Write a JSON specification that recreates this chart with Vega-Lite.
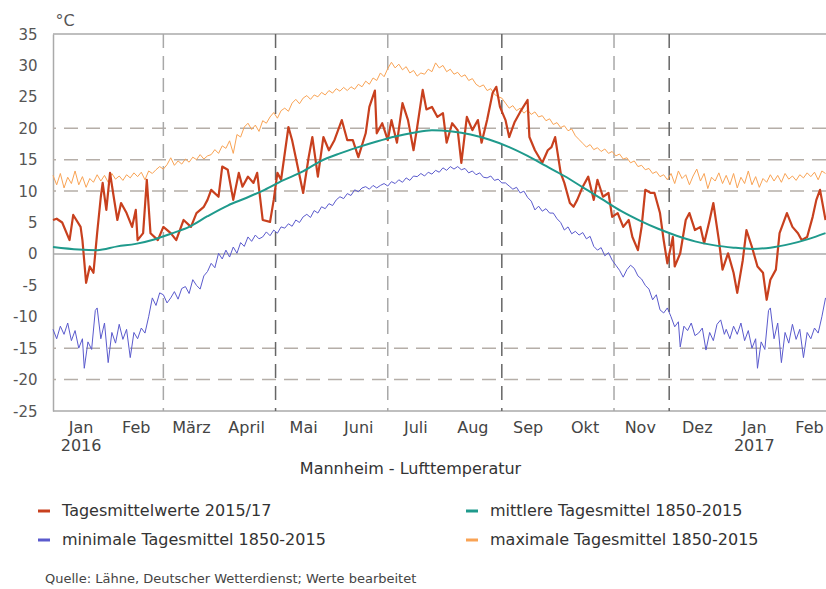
{
"$schema": "https://vega.github.io/schema/vega-lite/v6.json",
"width": 773, "height": 377,
"autosize": {"type": "none"},
"padding": {"left": 53, "top": 34, "right": 0, "bottom": 178},
"background": "white",
"config": {"font": "DejaVu Sans", "view": {"stroke": null}, "axis": {"labelOverlap": false, "labelSeparation": 0}},
"title": {"text": "Quelle: Lähne, Deutscher Wetterdienst; Werte bearbeitet", "orient": "bottom", "anchor": "start", "frame": "group", "offset": 25, "fontSize": 13, "fontWeight": "normal", "color": "#444", "dx": -8},
"layer": [
{"data": {"values": [{"v":20},{"v":15},{"v":10},{"v":-15},{"v":-20}]},
 "mark": {"type":"rule","strokeDash":[14,8],"color":"#b5aea8","strokeWidth":1.5},
 "encoding": {"y": {"field":"v","type":"quantitative","scale":{"domain":[-25,35],"nice":false,"zero":false},
   "axis": {"title":"°C","titleAngle":0,"titleAlign":"left","titleX":2,"titleY":-9,"titleBaseline":"alphabetic","titleFontSize":16,"titleFontWeight":"normal","titleColor":"#555",
    "values":[-25,-20,-15,-10,-5,0,5,10,15,20,25,30,35],"labelExpr":"'' + datum.value","labelOverlap":false,"labelSeparation":0,"labelBound":false,"labelFontSize":15,"labelColor":"#555","labelPadding":16,"ticks":false,"grid":false,"domain":true,"domainColor":"#aaaaaa","domainWidth":1.5}}}},
{"data": {"values": [{"v":35},{"v":0},{"v":-25}]},
 "mark": {"type":"rule","color":"#aaaaaa","strokeWidth":1.5},
 "encoding": {"y": {"field":"v","type":"quantitative","scale":{"domain":[-25,35],"nice":false,"zero":false},
   "axis": {"title":"°C","titleAngle":0,"titleAlign":"left","titleX":2,"titleY":-9,"titleBaseline":"alphabetic","titleFontSize":16,"titleFontWeight":"normal","titleColor":"#555",
    "values":[-25,-20,-15,-10,-5,0,5,10,15,20,25,30,35],"labelExpr":"'' + datum.value","labelOverlap":false,"labelSeparation":0,"labelBound":false,"labelFontSize":15,"labelColor":"#555","labelPadding":16,"ticks":false,"grid":false,"domain":true,"domainColor":"#aaaaaa","domainWidth":1.5}}}},
{"data": {"values": [{"d":"2016-03-01"},{"d":"2016-07-01"},{"d":"2016-11-01"}]},
 "mark": {"type":"rule","strokeDash":[14,8],"color":"#a8a8a8","strokeWidth":1.5},
 "encoding": {"x": {"field":"d","type":"temporal","scale":{"type":"utc","domain":[{"year":2016,"month":1,"date":1,"utc":true},{"year":2017,"month":2,"date":24,"hours":6,"utc":true}]},
   "axis": {"title":"Mannheim - Lufttemperatur","values":[{"year":2016,"month":1,"date":16,"utc":true},{"year":2016,"month":2,"date":15,"utc":true},{"year":2016,"month":3,"date":16,"utc":true},{"year":2016,"month":4,"date":15,"utc":true},{"year":2016,"month":5,"date":16,"utc":true},{"year":2016,"month":6,"date":15,"utc":true},{"year":2016,"month":7,"date":16,"utc":true},{"year":2016,"month":8,"date":16,"utc":true},{"year":2016,"month":9,"date":15,"utc":true},{"year":2016,"month":10,"date":16,"utc":true},{"year":2016,"month":11,"date":15,"utc":true},{"year":2016,"month":12,"date":16,"utc":true},{"year":2017,"month":1,"date":16,"utc":true},{"year":2017,"month":2,"date":15,"utc":true}],
    "labelExpr":"utcmonth(datum.value) == 0 ? ['Jan', '' + utcyear(datum.value)] : ['Jan','Feb','März','April','Mai','Juni','Juli','Aug','Sep','Okt','Nov','Dez'][utcmonth(datum.value)]",
    "ticks":false,"grid":false,"domain":false,"labelPadding":8,"labelFontSize":16,"labelColor":"#444","labelLineHeight":18,"labelFlush":false,"labelOverlap":false,
    "titleX":357,"titleY":57,"titleBaseline":"middle","titleAlign":"center","titleFontWeight":"normal","titleFontSize":16,"titleColor":"#333"}}}},
{"data": {"values": [{"d":"2016-05-01"},{"d":"2016-09-01"},{"d":"2016-12-01"}]},
 "mark": {"type":"rule","strokeDash":[14,8],"color":"#666666","strokeWidth":1.5},
 "encoding": {"x": {"field":"d","type":"temporal","scale":{"type":"utc","domain":[{"year":2016,"month":1,"date":1,"utc":true},{"year":2017,"month":2,"date":24,"hours":6,"utc":true}]}}}},
{"data": {"values": [
{"d":"2016-01-01","v":-12.0},{"d":"2016-01-03","v":-13.5},{"d":"2016-01-05","v":-11.5},{"d":"2016-01-07","v":-12.8},{"d":"2016-01-09","v":-11.0},{"d":"2016-01-11","v":-13.8},{"d":"2016-01-13","v":-12.2},{"d":"2016-01-15","v":-15.0},{"d":"2016-01-17","v":-13.5},{"d":"2016-01-18","v":-18.2},{"d":"2016-01-20","v":-14.0},{"d":"2016-01-22","v":-15.2},{"d":"2016-01-24","v":-9.0},{"d":"2016-01-25","v":-8.6},{"d":"2016-01-27","v":-13.5},{"d":"2016-01-29","v":-11.0},{"d":"2016-01-31","v":-17.3},{"d":"2016-02-02","v":-12.5},{"d":"2016-02-04","v":-14.2},{"d":"2016-02-06","v":-11.2},{"d":"2016-02-08","v":-13.6},{"d":"2016-02-10","v":-12.0},{"d":"2016-02-12","v":-16.5},{"d":"2016-02-14","v":-12.5},{"d":"2016-02-16","v":-13.5},{"d":"2016-02-18","v":-11.8},{"d":"2016-02-20","v":-12.6},{"d":"2016-02-22","v":-10.0},{"d":"2016-02-24","v":-7.0},
{"d":"2016-02-26","v":-8.2},{"d":"2016-02-28","v":-6.2},{"d":"2016-03-01","v":-6.5},{"d":"2016-03-03","v":-7.8},{"d":"2016-03-05","v":-7.0},{"d":"2016-03-07","v":-6.0},{"d":"2016-03-09","v":-7.2},{"d":"2016-03-11","v":-5.5},{"d":"2016-03-13","v":-5.2},{"d":"2016-03-15","v":-6.3},{"d":"2016-03-17","v":-4.1},{"d":"2016-03-19","v":-5.0},{"d":"2016-03-21","v":-5.6},{"d":"2016-03-23","v":-3.5},{"d":"2016-03-25","v":-2.8},{"d":"2016-03-27","v":-1.5},{"d":"2016-03-29","v":-2.2},{"d":"2016-03-31","v":0.1},
{"d":"2016-04-02","v":-0.8},{"d":"2016-04-04","v":0.6},{"d":"2016-04-06","v":-0.5},{"d":"2016-04-08","v":1.1},{"d":"2016-04-10","v":0.1},{"d":"2016-04-12","v":1.8},{"d":"2016-04-14","v":1.2},{"d":"2016-04-16","v":2.7},{"d":"2016-04-18","v":2.0},{"d":"2016-04-20","v":3.0},{"d":"2016-04-22","v":2.4},{"d":"2016-04-24","v":2.7},{"d":"2016-04-26","v":3.5},{"d":"2016-04-28","v":2.9},{"d":"2016-04-30","v":3.8},
{"d":"2016-05-02","v":3.3},{"d":"2016-05-04","v":4.3},{"d":"2016-05-06","v":4.1},{"d":"2016-05-08","v":4.8},{"d":"2016-05-10","v":4.4},{"d":"2016-05-12","v":5.4},{"d":"2016-05-14","v":5.0},{"d":"2016-05-16","v":5.9},{"d":"2016-05-18","v":6.3},{"d":"2016-05-20","v":5.8},{"d":"2016-05-22","v":6.9},{"d":"2016-05-24","v":6.5},{"d":"2016-05-26","v":7.5},{"d":"2016-05-28","v":7.2},{"d":"2016-05-30","v":8.0},
{"d":"2016-06-01","v":7.7},{"d":"2016-06-03","v":8.6},{"d":"2016-06-05","v":9.1},{"d":"2016-06-07","v":8.8},{"d":"2016-06-09","v":9.6},{"d":"2016-06-11","v":9.3},{"d":"2016-06-13","v":10.2},{"d":"2016-06-15","v":9.9},{"d":"2016-06-17","v":10.5},{"d":"2016-06-19","v":10.7},{"d":"2016-06-21","v":10.3},{"d":"2016-06-23","v":10.9},{"d":"2016-06-25","v":10.5},{"d":"2016-06-27","v":10.9},{"d":"2016-06-29","v":11.2},
{"d":"2016-07-01","v":10.8},{"d":"2016-07-03","v":11.5},{"d":"2016-07-05","v":11.2},{"d":"2016-07-07","v":11.8},{"d":"2016-07-09","v":11.4},{"d":"2016-07-11","v":12.1},{"d":"2016-07-13","v":11.7},{"d":"2016-07-15","v":12.4},{"d":"2016-07-17","v":12.3},{"d":"2016-07-19","v":12.8},{"d":"2016-07-21","v":12.4},{"d":"2016-07-23","v":13.0},{"d":"2016-07-25","v":12.7},{"d":"2016-07-27","v":13.3},{"d":"2016-07-29","v":13.0},{"d":"2016-07-31","v":13.7},
{"d":"2016-08-02","v":13.3},{"d":"2016-08-04","v":13.9},{"d":"2016-08-06","v":13.5},{"d":"2016-08-08","v":13.9},{"d":"2016-08-10","v":13.4},{"d":"2016-08-12","v":13.6},{"d":"2016-08-14","v":12.9},{"d":"2016-08-16","v":13.2},{"d":"2016-08-18","v":12.6},{"d":"2016-08-20","v":12.9},{"d":"2016-08-22","v":12.2},{"d":"2016-08-24","v":12.1},{"d":"2016-08-26","v":12.4},{"d":"2016-08-28","v":11.7},{"d":"2016-08-30","v":11.9},
{"d":"2016-09-01","v":11.3},{"d":"2016-09-03","v":11.3},{"d":"2016-09-05","v":10.8},{"d":"2016-09-07","v":10.3},{"d":"2016-09-09","v":10.6},{"d":"2016-09-11","v":9.7},{"d":"2016-09-13","v":10.0},{"d":"2016-09-15","v":9.0},{"d":"2016-09-17","v":8.4},{"d":"2016-09-19","v":7.0},{"d":"2016-09-21","v":7.6},{"d":"2016-09-23","v":6.8},{"d":"2016-09-25","v":7.2},{"d":"2016-09-27","v":6.5},{"d":"2016-09-29","v":6.5},
{"d":"2016-10-01","v":5.6},{"d":"2016-10-03","v":5.0},{"d":"2016-10-05","v":3.8},{"d":"2016-10-07","v":4.3},{"d":"2016-10-09","v":3.2},{"d":"2016-10-11","v":3.6},{"d":"2016-10-13","v":3.0},{"d":"2016-10-15","v":3.4},{"d":"2016-10-17","v":2.4},{"d":"2016-10-19","v":2.8},{"d":"2016-10-21","v":1.2},{"d":"2016-10-23","v":0.6},{"d":"2016-10-25","v":1.0},{"d":"2016-10-27","v":-0.3},{"d":"2016-10-29","v":0.2},{"d":"2016-10-31","v":-1.0},
{"d":"2016-11-02","v":-1.8},{"d":"2016-11-04","v":-2.6},{"d":"2016-11-06","v":-3.7},{"d":"2016-11-08","v":-2.5},{"d":"2016-11-10","v":-1.8},{"d":"2016-11-12","v":-2.3},{"d":"2016-11-14","v":-3.5},{"d":"2016-11-16","v":-4.0},{"d":"2016-11-18","v":-5.0},{"d":"2016-11-20","v":-5.6},{"d":"2016-11-22","v":-7.3},{"d":"2016-11-24","v":-6.5},{"d":"2016-11-26","v":-8.9},{"d":"2016-11-28","v":-9.4},{"d":"2016-11-30","v":-8.6},
{"d":"2016-12-02","v":-10.0},{"d":"2016-12-04","v":-11.6},{"d":"2016-12-06","v":-10.8},{"d":"2016-12-07","v":-14.8},{"d":"2016-12-09","v":-11.5},{"d":"2016-12-11","v":-12.2},{"d":"2016-12-13","v":-11.0},{"d":"2016-12-15","v":-13.0},{"d":"2016-12-17","v":-12.6},{"d":"2016-12-19","v":-11.8},{"d":"2016-12-21","v":-15.3},{"d":"2016-12-23","v":-12.5},{"d":"2016-12-25","v":-13.8},{"d":"2016-12-27","v":-11.2},{"d":"2016-12-29","v":-10.5},{"d":"2016-12-31","v":-12.8},
{"d":"2017-01-01","v":-12.0},{"d":"2017-01-03","v":-13.5},{"d":"2017-01-05","v":-11.5},{"d":"2017-01-07","v":-12.8},{"d":"2017-01-09","v":-11.0},{"d":"2017-01-11","v":-13.8},{"d":"2017-01-13","v":-12.2},{"d":"2017-01-15","v":-15.0},{"d":"2017-01-17","v":-13.5},{"d":"2017-01-18","v":-18.2},{"d":"2017-01-20","v":-14.0},{"d":"2017-01-22","v":-15.2},{"d":"2017-01-24","v":-9.0},{"d":"2017-01-25","v":-8.6},{"d":"2017-01-27","v":-13.5},{"d":"2017-01-29","v":-11.0},{"d":"2017-01-31","v":-17.3},{"d":"2017-02-02","v":-12.5},{"d":"2017-02-04","v":-14.2},{"d":"2017-02-06","v":-11.2},{"d":"2017-02-08","v":-13.6},{"d":"2017-02-10","v":-12.0},{"d":"2017-02-12","v":-16.5},{"d":"2017-02-14","v":-12.5},{"d":"2017-02-16","v":-13.5},{"d":"2017-02-18","v":-11.8},{"d":"2017-02-20","v":-12.6},{"d":"2017-02-22","v":-10.0},{"d":"2017-02-24","v":-7.0}
]},
 "mark": {"type":"line","strokeWidth":1,"color":"#5a5acd"},
 "encoding": {
  "x": {"field":"d","type":"temporal","scale":{"type":"utc","domain":[{"year":2016,"month":1,"date":1,"utc":true},{"year":2017,"month":2,"date":24,"hours":6,"utc":true}]}},
  "y": {"field":"v","type":"quantitative","scale":{"domain":[-25,35],"nice":false,"zero":false},
   "axis": {"title":"°C","titleAngle":0,"titleAlign":"left","titleX":2,"titleY":-9,"titleBaseline":"alphabetic","titleFontSize":16,"titleFontWeight":"normal","titleColor":"#555",
    "values":[-25,-20,-15,-10,-5,0,5,10,15,20,25,30,35],"labelExpr":"'' + datum.value","labelOverlap":false,"labelSeparation":0,"labelBound":false,"labelFontSize":15,"labelColor":"#555","labelPadding":16,"ticks":false,"grid":false,"domain":true,"domainColor":"#aaaaaa","domainWidth":1.5}},
  "color": {"datum":"minimale Tagesmittel 1850-2015"}}},
{"data": {"values": [
{"d":"2016-01-01","v":12.5},{"d":"2016-01-03","v":11.0},{"d":"2016-01-05","v":12.8},{"d":"2016-01-07","v":10.5},{"d":"2016-01-09","v":12.2},{"d":"2016-01-11","v":11.2},{"d":"2016-01-13","v":13.2},{"d":"2016-01-15","v":11.0},{"d":"2016-01-17","v":12.3},{"d":"2016-01-19","v":10.6},{"d":"2016-01-21","v":12.0},{"d":"2016-01-23","v":11.4},{"d":"2016-01-25","v":12.6},{"d":"2016-01-27","v":11.6},{"d":"2016-01-29","v":12.5},{"d":"2016-01-31","v":11.4},{"d":"2016-02-02","v":12.8},{"d":"2016-02-04","v":11.9},{"d":"2016-02-06","v":12.4},{"d":"2016-02-08","v":11.7},{"d":"2016-02-10","v":12.6},{"d":"2016-02-12","v":12.1},{"d":"2016-02-14","v":12.9},{"d":"2016-02-16","v":12.3},{"d":"2016-02-18","v":13.0},{"d":"2016-02-20","v":11.8},{"d":"2016-02-22","v":13.2},{"d":"2016-02-24","v":12.8},
{"d":"2016-02-26","v":13.4},{"d":"2016-02-28","v":13.9},{"d":"2016-03-01","v":13.5},{"d":"2016-03-03","v":14.2},{"d":"2016-03-05","v":15.3},{"d":"2016-03-07","v":14.1},{"d":"2016-03-09","v":14.8},{"d":"2016-03-11","v":14.3},{"d":"2016-03-13","v":15.1},{"d":"2016-03-15","v":14.6},{"d":"2016-03-17","v":15.4},{"d":"2016-03-19","v":15.0},{"d":"2016-03-21","v":15.8},{"d":"2016-03-23","v":15.1},{"d":"2016-03-25","v":15.6},{"d":"2016-03-27","v":15.8},{"d":"2016-03-29","v":16.6},{"d":"2016-03-31","v":16.0},
{"d":"2016-04-02","v":17.2},{"d":"2016-04-04","v":16.8},{"d":"2016-04-06","v":18.0},{"d":"2016-04-08","v":16.0},{"d":"2016-04-10","v":19.0},{"d":"2016-04-12","v":18.6},{"d":"2016-04-14","v":20.2},{"d":"2016-04-16","v":20.8},{"d":"2016-04-18","v":19.8},{"d":"2016-04-20","v":20.5},{"d":"2016-04-22","v":19.5},{"d":"2016-04-24","v":21.2},{"d":"2016-04-26","v":20.8},{"d":"2016-04-28","v":21.8},{"d":"2016-04-30","v":22.5},
{"d":"2016-05-02","v":21.6},{"d":"2016-05-04","v":22.8},{"d":"2016-05-06","v":23.2},{"d":"2016-05-08","v":22.7},{"d":"2016-05-10","v":24.0},{"d":"2016-05-12","v":24.6},{"d":"2016-05-14","v":23.9},{"d":"2016-05-16","v":24.8},{"d":"2016-05-18","v":25.2},{"d":"2016-05-20","v":24.6},{"d":"2016-05-22","v":25.3},{"d":"2016-05-24","v":25.0},{"d":"2016-05-26","v":25.7},{"d":"2016-05-28","v":25.3},{"d":"2016-05-30","v":26.0},
{"d":"2016-06-01","v":25.6},{"d":"2016-06-03","v":26.3},{"d":"2016-06-05","v":25.9},{"d":"2016-06-07","v":26.5},{"d":"2016-06-09","v":26.0},{"d":"2016-06-11","v":26.6},{"d":"2016-06-13","v":26.2},{"d":"2016-06-15","v":27.0},{"d":"2016-06-17","v":26.6},{"d":"2016-06-19","v":27.5},{"d":"2016-06-21","v":27.0},{"d":"2016-06-23","v":28.0},{"d":"2016-06-25","v":27.6},{"d":"2016-06-27","v":28.8},{"d":"2016-06-29","v":28.2},
{"d":"2016-07-01","v":29.5},{"d":"2016-07-03","v":30.5},{"d":"2016-07-05","v":29.6},{"d":"2016-07-07","v":30.2},{"d":"2016-07-09","v":29.3},{"d":"2016-07-11","v":29.8},{"d":"2016-07-13","v":28.8},{"d":"2016-07-15","v":29.2},{"d":"2016-07-17","v":28.3},{"d":"2016-07-19","v":28.8},{"d":"2016-07-21","v":28.6},{"d":"2016-07-23","v":29.4},{"d":"2016-07-25","v":29.0},{"d":"2016-07-27","v":30.4},{"d":"2016-07-29","v":29.6},{"d":"2016-07-31","v":30.0},
{"d":"2016-08-02","v":29.0},{"d":"2016-08-04","v":29.4},{"d":"2016-08-06","v":28.6},{"d":"2016-08-08","v":28.9},{"d":"2016-08-10","v":28.2},{"d":"2016-08-12","v":28.5},{"d":"2016-08-14","v":27.6},{"d":"2016-08-16","v":27.9},{"d":"2016-08-18","v":27.0},{"d":"2016-08-20","v":26.6},{"d":"2016-08-22","v":26.9},{"d":"2016-08-24","v":26.0},{"d":"2016-08-26","v":26.3},{"d":"2016-08-28","v":25.4},{"d":"2016-08-30","v":25.0},
{"d":"2016-09-01","v":24.8},{"d":"2016-09-03","v":24.0},{"d":"2016-09-05","v":23.2},{"d":"2016-09-07","v":23.6},{"d":"2016-09-09","v":22.8},{"d":"2016-09-11","v":23.2},{"d":"2016-09-13","v":22.4},{"d":"2016-09-15","v":22.9},{"d":"2016-09-17","v":22.2},{"d":"2016-09-19","v":22.6},{"d":"2016-09-21","v":21.8},{"d":"2016-09-23","v":22.0},{"d":"2016-09-25","v":21.2},{"d":"2016-09-27","v":21.5},{"d":"2016-09-29","v":20.6},
{"d":"2016-10-01","v":20.9},{"d":"2016-10-03","v":20.1},{"d":"2016-10-05","v":20.4},{"d":"2016-10-07","v":19.6},{"d":"2016-10-09","v":19.9},{"d":"2016-10-11","v":18.8},{"d":"2016-10-13","v":18.2},{"d":"2016-10-15","v":17.6},{"d":"2016-10-17","v":17.0},{"d":"2016-10-19","v":17.4},{"d":"2016-10-21","v":16.6},{"d":"2016-10-23","v":16.9},{"d":"2016-10-25","v":16.3},{"d":"2016-10-27","v":16.7},{"d":"2016-10-29","v":16.0},{"d":"2016-10-31","v":16.3},
{"d":"2016-11-02","v":15.6},{"d":"2016-11-04","v":15.9},{"d":"2016-11-06","v":15.1},{"d":"2016-11-08","v":15.3},{"d":"2016-11-10","v":14.5},{"d":"2016-11-12","v":14.8},{"d":"2016-11-14","v":13.9},{"d":"2016-11-16","v":14.1},{"d":"2016-11-18","v":13.4},{"d":"2016-11-20","v":13.6},{"d":"2016-11-22","v":12.8},{"d":"2016-11-24","v":13.1},{"d":"2016-11-26","v":12.3},{"d":"2016-11-28","v":12.6},{"d":"2016-11-30","v":11.8},
{"d":"2016-12-02","v":12.8},{"d":"2016-12-04","v":11.2},{"d":"2016-12-06","v":13.2},{"d":"2016-12-08","v":12.0},{"d":"2016-12-10","v":12.6},{"d":"2016-12-12","v":11.0},{"d":"2016-12-14","v":12.4},{"d":"2016-12-16","v":13.5},{"d":"2016-12-18","v":11.6},{"d":"2016-12-20","v":12.8},{"d":"2016-12-22","v":10.4},{"d":"2016-12-24","v":12.2},{"d":"2016-12-26","v":11.6},{"d":"2016-12-28","v":12.9},{"d":"2016-12-30","v":11.2},
{"d":"2017-01-01","v":12.5},{"d":"2017-01-03","v":11.0},{"d":"2017-01-05","v":12.8},{"d":"2017-01-07","v":10.5},{"d":"2017-01-09","v":12.2},{"d":"2017-01-11","v":11.2},{"d":"2017-01-13","v":13.2},{"d":"2017-01-15","v":11.0},{"d":"2017-01-17","v":12.3},{"d":"2017-01-19","v":10.6},{"d":"2017-01-21","v":12.0},{"d":"2017-01-23","v":11.4},{"d":"2017-01-25","v":12.6},{"d":"2017-01-27","v":11.6},{"d":"2017-01-29","v":12.5},{"d":"2017-01-31","v":11.4},{"d":"2017-02-02","v":12.8},{"d":"2017-02-04","v":11.9},{"d":"2017-02-06","v":12.4},{"d":"2017-02-08","v":11.7},{"d":"2017-02-10","v":12.6},{"d":"2017-02-12","v":12.1},{"d":"2017-02-14","v":12.9},{"d":"2017-02-16","v":12.3},{"d":"2017-02-18","v":13.0},{"d":"2017-02-20","v":11.8},{"d":"2017-02-22","v":13.2},{"d":"2017-02-24","v":12.8}
]},
 "mark": {"type":"line","strokeWidth":1,"color":"#f9a354"},
 "encoding": {
  "x": {"field":"d","type":"temporal","scale":{"type":"utc","domain":[{"year":2016,"month":1,"date":1,"utc":true},{"year":2017,"month":2,"date":24,"hours":6,"utc":true}]}},
  "y": {"field":"v","type":"quantitative","scale":{"domain":[-25,35],"nice":false,"zero":false},
   "axis": {"title":"°C","titleAngle":0,"titleAlign":"left","titleX":2,"titleY":-9,"titleBaseline":"alphabetic","titleFontSize":16,"titleFontWeight":"normal","titleColor":"#555",
    "values":[-25,-20,-15,-10,-5,0,5,10,15,20,25,30,35],"labelExpr":"'' + datum.value","labelOverlap":false,"labelSeparation":0,"labelBound":false,"labelFontSize":15,"labelColor":"#555","labelPadding":16,"ticks":false,"grid":false,"domain":true,"domainColor":"#aaaaaa","domainWidth":1.5}},
  "color": {"datum":"maximale Tagesmittel 1850-2015"}}},
{"data": {"values": [
{"d":"2016-01-01","v":5.4},{"d":"2016-01-03","v":5.6},{"d":"2016-01-06","v":5.0},{"d":"2016-01-10","v":2.2},{"d":"2016-01-12","v":6.2},{"d":"2016-01-16","v":4.3},{"d":"2016-01-17","v":2.2},{"d":"2016-01-19","v":-4.6},{"d":"2016-01-21","v":-2.0},{"d":"2016-01-23","v":-3.0},{"d":"2016-01-25","v":3.3},{"d":"2016-01-27","v":9.1},{"d":"2016-01-28","v":11.3},{"d":"2016-01-30","v":7.0},
{"d":"2016-02-01","v":12.9},{"d":"2016-02-03","v":9.1},{"d":"2016-02-05","v":5.4},{"d":"2016-02-07","v":8.1},{"d":"2016-02-10","v":6.5},{"d":"2016-02-13","v":4.3},{"d":"2016-02-15","v":7.0},{"d":"2016-02-16","v":2.2},{"d":"2016-02-19","v":3.3},{"d":"2016-02-21","v":11.8},{"d":"2016-02-23","v":3.3},{"d":"2016-02-27","v":2.2},
{"d":"2016-03-01","v":4.3},{"d":"2016-03-05","v":3.3},{"d":"2016-03-08","v":2.2},{"d":"2016-03-12","v":5.4},{"d":"2016-03-16","v":4.3},{"d":"2016-03-19","v":6.5},{"d":"2016-03-23","v":7.5},{"d":"2016-03-25","v":8.6},{"d":"2016-03-27","v":10.2},{"d":"2016-03-31","v":9.1},
{"d":"2016-04-02","v":13.9},{"d":"2016-04-05","v":13.4},{"d":"2016-04-08","v":8.6},{"d":"2016-04-11","v":12.9},{"d":"2016-04-13","v":10.7},{"d":"2016-04-16","v":12.3},{"d":"2016-04-19","v":11.3},{"d":"2016-04-21","v":12.9},{"d":"2016-04-24","v":5.4},{"d":"2016-04-28","v":5.1},{"d":"2016-04-30","v":8.6},
{"d":"2016-05-02","v":12.9},{"d":"2016-05-04","v":11.8},{"d":"2016-05-08","v":20.2},{"d":"2016-05-10","v":18.1},{"d":"2016-05-13","v":13.9},{"d":"2016-05-16","v":9.7},{"d":"2016-05-19","v":15.4},{"d":"2016-05-21","v":18.6},{"d":"2016-05-24","v":12.3},{"d":"2016-05-27","v":18.6},{"d":"2016-05-30","v":16.5},
{"d":"2016-06-02","v":18.1},{"d":"2016-06-06","v":21.3},{"d":"2016-06-09","v":18.1},{"d":"2016-06-12","v":18.1},{"d":"2016-06-15","v":15.4},{"d":"2016-06-19","v":19.2},{"d":"2016-06-21","v":23.4},{"d":"2016-06-24","v":26.0},{"d":"2016-06-25","v":19.2},{"d":"2016-06-28","v":20.8},
{"d":"2016-07-01","v":18.1},{"d":"2016-07-03","v":21.3},{"d":"2016-07-06","v":17.7},{"d":"2016-07-09","v":24.0},{"d":"2016-07-12","v":21.3},{"d":"2016-07-15","v":16.5},{"d":"2016-07-17","v":20.2},{"d":"2016-07-20","v":26.1},{"d":"2016-07-22","v":23.0},{"d":"2016-07-25","v":23.4},{"d":"2016-07-28","v":21.8},{"d":"2016-07-31","v":22.4},
{"d":"2016-08-02","v":17.7},{"d":"2016-08-05","v":20.8},{"d":"2016-08-08","v":19.7},{"d":"2016-08-10","v":14.5},{"d":"2016-08-13","v":21.8},{"d":"2016-08-16","v":19.7},{"d":"2016-08-19","v":21.3},{"d":"2016-08-21","v":17.7},{"d":"2016-08-24","v":21.3},{"d":"2016-08-27","v":25.6},{"d":"2016-08-29","v":26.6},{"d":"2016-08-31","v":23.4},
{"d":"2016-09-03","v":21.3},{"d":"2016-09-05","v":18.6},{"d":"2016-09-08","v":21.0},{"d":"2016-09-11","v":22.6},{"d":"2016-09-15","v":24.5},{"d":"2016-09-16","v":18.6},{"d":"2016-09-19","v":16.5},{"d":"2016-09-23","v":14.5},{"d":"2016-09-26","v":16.5},{"d":"2016-09-28","v":17.0},{"d":"2016-09-30","v":18.6},
{"d":"2016-10-03","v":12.9},{"d":"2016-10-05","v":11.3},{"d":"2016-10-08","v":8.1},{"d":"2016-10-10","v":7.5},{"d":"2016-10-12","v":8.6},{"d":"2016-10-15","v":10.7},{"d":"2016-10-18","v":12.3},{"d":"2016-10-21","v":8.6},{"d":"2016-10-23","v":11.8},{"d":"2016-10-26","v":9.1},{"d":"2016-10-29","v":9.7},{"d":"2016-10-31","v":5.9},
{"d":"2016-11-03","v":6.5},{"d":"2016-11-06","v":4.3},{"d":"2016-11-09","v":5.4},{"d":"2016-11-11","v":2.7},{"d":"2016-11-14","v":0.6},{"d":"2016-11-16","v":4.3},{"d":"2016-11-18","v":10.2},{"d":"2016-11-21","v":9.7},{"d":"2016-11-23","v":9.7},{"d":"2016-11-26","v":6.5},{"d":"2016-11-28","v":2.2},{"d":"2016-11-30","v":-1.5},
{"d":"2016-12-03","v":2.7},{"d":"2016-12-04","v":-2.0},{"d":"2016-12-07","v":0.1},{"d":"2016-12-10","v":5.4},{"d":"2016-12-12","v":6.5},{"d":"2016-12-15","v":3.8},{"d":"2016-12-18","v":4.3},{"d":"2016-12-20","v":1.7},{"d":"2016-12-23","v":5.4},{"d":"2016-12-25","v":8.1},{"d":"2016-12-28","v":2.2},{"d":"2016-12-30","v":-2.5},
{"d":"2017-01-02","v":0.1},{"d":"2017-01-05","v":-3.0},{"d":"2017-01-07","v":-6.2},{"d":"2017-01-10","v":-1.0},{"d":"2017-01-12","v":3.8},{"d":"2017-01-15","v":1.1},{"d":"2017-01-18","v":-2.0},{"d":"2017-01-21","v":-3.0},{"d":"2017-01-23","v":-7.3},{"d":"2017-01-25","v":-4.1},{"d":"2017-01-28","v":-2.5},{"d":"2017-01-30","v":3.3},
{"d":"2017-02-03","v":6.5},{"d":"2017-02-06","v":4.3},{"d":"2017-02-09","v":3.3},{"d":"2017-02-11","v":2.2},{"d":"2017-02-14","v":2.7},{"d":"2017-02-17","v":5.9},{"d":"2017-02-19","v":8.6},{"d":"2017-02-21","v":10.2},{"d":"2017-02-23","v":7.0},{"d":"2017-02-24","v":5.4}
]},
 "mark": {"type":"line","strokeWidth":2.2,"color":"#c8401e","strokeJoin":"round"},
 "encoding": {
  "x": {"field":"d","type":"temporal","scale":{"type":"utc","domain":[{"year":2016,"month":1,"date":1,"utc":true},{"year":2017,"month":2,"date":24,"hours":6,"utc":true}]}},
  "y": {"field":"v","type":"quantitative","scale":{"domain":[-25,35],"nice":false,"zero":false},
   "axis": {"title":"°C","titleAngle":0,"titleAlign":"left","titleX":2,"titleY":-9,"titleBaseline":"alphabetic","titleFontSize":16,"titleFontWeight":"normal","titleColor":"#555",
    "values":[-25,-20,-15,-10,-5,0,5,10,15,20,25,30,35],"labelExpr":"'' + datum.value","labelOverlap":false,"labelSeparation":0,"labelBound":false,"labelFontSize":15,"labelColor":"#555","labelPadding":16,"ticks":false,"grid":false,"domain":true,"domainColor":"#aaaaaa","domainWidth":1.5}},
  "color": {"datum":"Tagesmittelwerte 2015/17",
   "scale":{"domain":["Tagesmittelwerte 2015/17","minimale Tagesmittel 1850-2015","mittlere Tagesmittel 1850-2015","maximale Tagesmittel 1850-2015"],"range":["#c8401e","#5a5acd","#1f9a8c","#f9a354"]},
   "legend":{"title":null,"orient":"none","legendX":-17,"legendY":469,"columns":2,"symbolType":"stroke","symbolStrokeWidth":3,"symbolSize":144,"labelFontSize":16,"labelColor":"#333","labelOffset":10,"columnPadding":134,"rowPadding":13,"padding":0,"labelLimit":400}}}},
{"data": {"values": [
{"d":"2016-01-01","v":1.1},{"d":"2016-01-15","v":0.7},{"d":"2016-01-25","v":0.6},{"d":"2016-02-05","v":1.2},{"d":"2016-02-15","v":1.6},{"d":"2016-02-25","v":2.3},{"d":"2016-03-05","v":3.2},{"d":"2016-03-15","v":4.3},{"d":"2016-03-25","v":6.0},{"d":"2016-04-05","v":7.7},{"d":"2016-04-15","v":8.9},{"d":"2016-04-25","v":10.2},{"d":"2016-05-05","v":11.7},{"d":"2016-05-15","v":13.0},{"d":"2016-05-25","v":14.7},{"d":"2016-06-05","v":16.0},{"d":"2016-06-15","v":17.0},{"d":"2016-06-25","v":17.9},{"d":"2016-07-05","v":18.7},{"d":"2016-07-15","v":19.3},{"d":"2016-07-25","v":19.7},{"d":"2016-08-05","v":19.5},{"d":"2016-08-15","v":19.0},{"d":"2016-08-25","v":18.2},{"d":"2016-09-05","v":17.0},{"d":"2016-09-15","v":15.6},{"d":"2016-09-25","v":14.0},{"d":"2016-10-05","v":12.4},{"d":"2016-10-15","v":10.6},{"d":"2016-10-25","v":8.8},{"d":"2016-11-05","v":6.8},{"d":"2016-11-15","v":5.3},{"d":"2016-11-25","v":4.0},{"d":"2016-12-05","v":2.9},{"d":"2016-12-15","v":2.0},{"d":"2016-12-25","v":1.4},{"d":"2017-01-05","v":1.0},{"d":"2017-01-15","v":0.8},{"d":"2017-01-25","v":1.0},{"d":"2017-02-05","v":1.6},{"d":"2017-02-15","v":2.4},{"d":"2017-02-24","v":3.3}
]},
 "mark": {"type":"line","strokeWidth":2,"color":"#1f9a8c","interpolate":"monotone"},
 "encoding": {
  "x": {"field":"d","type":"temporal","scale":{"type":"utc","domain":[{"year":2016,"month":1,"date":1,"utc":true},{"year":2017,"month":2,"date":24,"hours":6,"utc":true}]}},
  "y": {"field":"v","type":"quantitative","scale":{"domain":[-25,35],"nice":false,"zero":false},
   "axis": {"title":"°C","titleAngle":0,"titleAlign":"left","titleX":2,"titleY":-9,"titleBaseline":"alphabetic","titleFontSize":16,"titleFontWeight":"normal","titleColor":"#555",
    "values":[-25,-20,-15,-10,-5,0,5,10,15,20,25,30,35],"labelExpr":"'' + datum.value","labelOverlap":false,"labelSeparation":0,"labelBound":false,"labelFontSize":15,"labelColor":"#555","labelPadding":16,"ticks":false,"grid":false,"domain":true,"domainColor":"#aaaaaa","domainWidth":1.5}},
  "color": {"datum":"mittlere Tagesmittel 1850-2015"}}}
]
}
